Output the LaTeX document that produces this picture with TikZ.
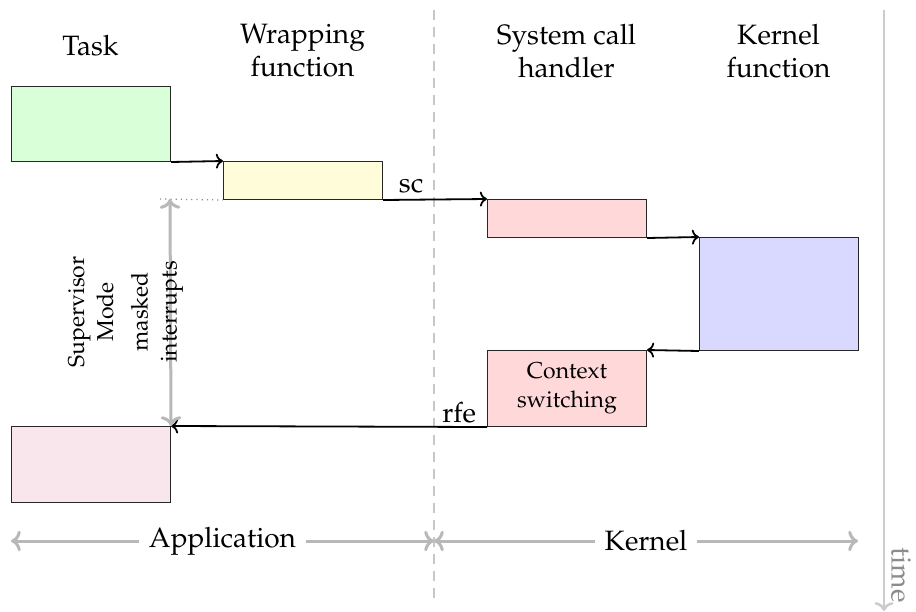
\documentclass[tikz,border=0pt]{standalone}
\usepackage[T1]{fontenc}
\usepackage{mathpazo}
\usepackage{graphicx}
\usetikzlibrary{arrows.meta}
\tikzset{
  big/.style={font=\fontsize{14}{16.5}\selectfont},
  small/.style={font=\fontsize{11.5}{14.5}\selectfont},
  box/.style={draw=black!85, line width=0.5pt, inner sep=0pt, anchor=north west, minimum width=79.5pt},
  flow/.style={draw=black, line width=0.9pt, ->},
  span/.style={draw=black!28, line width=1.5pt, <->},
  divider/.style={draw=black!22, line width=1pt, dash pattern=on 5pt off 3.5pt},
  timeaxis/.style={draw=black!20, line width=1.3pt, ->},
  head/.style={big, align=center, anchor=center},
  lbl/.style={big, inner sep=1.5pt},
}
\begin{document}
\begin{tikzpicture}[x=0.5pt,y=-0.5pt]
\useasboundingbox (0,0) rectangle (916,611);

% headers
\node[head] (hTask) at (90.5,46) {Task};
\node[head] (hWrap) at (302.5,51) {Wrapping\\function};
\node[head] (hSys) at (566.5,51) {System call\\handler};
\node[head] (hKern) at (778.5,51) {Kernel\\function};

% separators
\coordinate (dtop) at (434,10);
\coordinate (dbot) at (434,598);
\draw[divider] (dtop) -- (dbot);
\coordinate (ttop) at (884,10);
\coordinate (tbot) at (884,611);
\draw[timeaxis] (ttop) -- (tbot);
\node[big, text=black!45, inner sep=0pt] (tlabel) at (901,575) {\rotatebox{-90}{time}};

% boxes
\node[box, fill=green!15, minimum height=37.5pt] (task) at (11,86) {};
\node[box, fill=yellow!15, minimum height=19pt] (wrap) at (223,161) {};
\node[box, fill=red!15, minimum height=19pt] (sys) at (487,199) {};
\node[box, fill=blue!15, minimum height=56.5pt] (kern) at (699,237) {};
\node[box, fill=red!15, minimum height=38pt, small, align=center] (ctx) at (487,350) {Context\\switching};
\node[box, fill=purple!10, minimum height=38pt] (final) at (11,426) {};

% connectors
\draw[flow] (task.south east) -- (wrap.north west);
\draw[flow] (wrap.south east) -- node[lbl, pos=0.0, anchor=south west, xshift=6pt, yshift=1.5pt] (sc) {sc} (sys.north west);
\draw[flow] (sys.south east) -- (kern.north west);
\draw[flow] (kern.south west) -- (ctx.north east);
\draw[flow] (ctx.south west) -- node[lbl, pos=0.0, anchor=south east, xshift=-3.5pt] (rfe) {rfe} (final.north east);

% supervisor mode span
\coordinate (dotend) at (160,199);
\draw[black!45, line width=0.6pt, dotted] (dotend) -- (wrap.south west);
\coordinate (smtop) at (170,199);
\draw[span] (smtop) -- (final.north east);
\node[small, rotate=90, align=center] (sm) at (91,312) {Supervisor\\Mode};
\node[small, rotate=90, align=center] (mi) at (157,312) {masked\\interrupts};

% bottom spans
\coordinate (aL) at (11,541);
\coordinate (aM) at (434,541);
\coordinate (aR) at (858,541);
\draw[span] (aL) -- node[big, fill=white, inner sep=5pt] (app) {Application} (aM);
\draw[span] (aM) -- node[big, fill=white, inner sep=5pt] (ker) {Kernel} (aR);
\end{tikzpicture}
\end{document}
